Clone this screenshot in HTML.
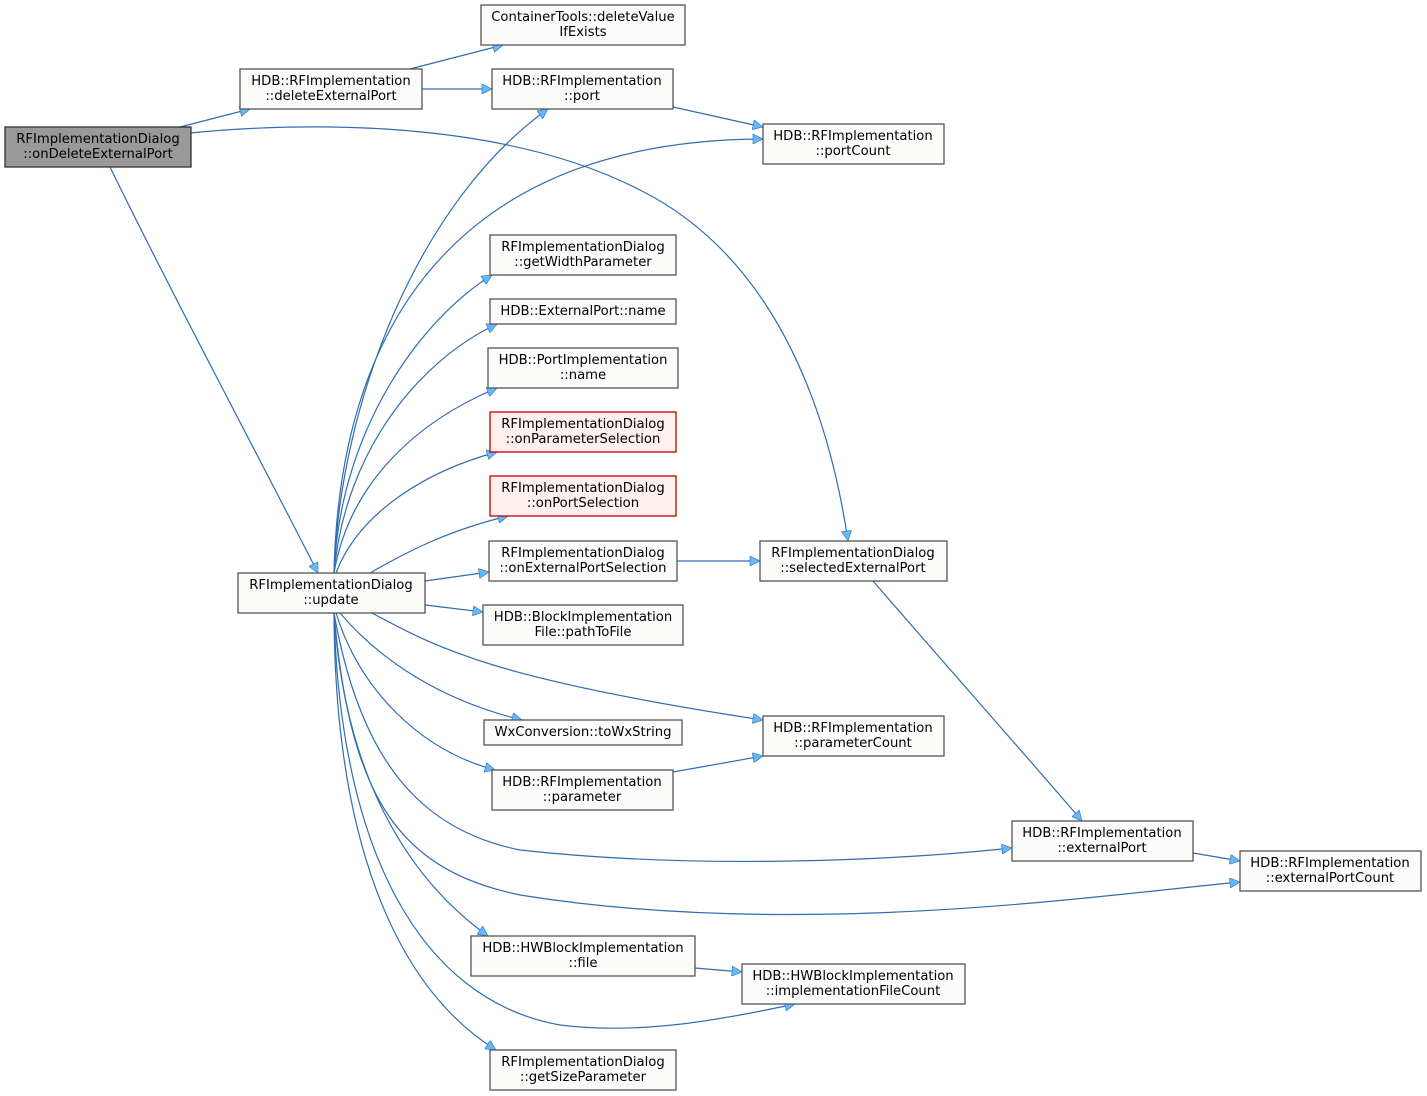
<!DOCTYPE html>
<html><head><meta charset="utf-8"><style>
html,body{margin:0;padding:0;background:#fff;}
svg{display:block;}
text{font-family:"DejaVu Sans","Liberation Sans",sans-serif;font-size:13.2px;fill:#000;}
.n{fill:#fbfcfa;stroke:#555;stroke-width:1.3;}
.r{fill:#fff0f0;stroke:#c00000;stroke-width:1.3;}
.g{fill:#999;stroke:#333;stroke-width:1.3;}
.e{fill:none;stroke:#2f6db0;stroke-width:1.2;}
</style></head><body>
<svg width="1427" height="1096" viewBox="0 0 1427 1096" xmlns="http://www.w3.org/2000/svg">
<defs><marker id="a" viewBox="0 0 10 10" refX="10" refY="5" markerWidth="12" markerHeight="10" markerUnits="userSpaceOnUse" orient="auto"><path d="M0,0 L10,5 L0,10 z" fill="#63b8ff" stroke="#2f6db0" stroke-width="0.6"/></marker></defs>
<g class="edges">
<path class="e" marker-end="url(#a)" d="M180,127 L250,109"/>
<path class="e" marker-end="url(#a)" d="M190,133 C300,122 500,118 640,190 C780,260 830,420 848,541"/>
<path class="e" marker-end="url(#a)" d="M110,167 C170,290 250,440 318,573"/>
<path class="e" marker-end="url(#a)" d="M410,69 L503,45"/>
<path class="e" marker-end="url(#a)" d="M422,89 L492,89"/>
<path class="e" marker-end="url(#a)" d="M673,107 L763,127"/>
<path class="e" marker-end="url(#a)" d="M334,573 C340,400 420,200 548,109"/>
<path class="e" marker-end="url(#a)" d="M334,573 C340,300 480,140 763,139"/>
<path class="e" marker-end="url(#a)" d="M334,573 C340,430 420,320 492,275"/>
<path class="e" marker-end="url(#a)" d="M334,573 C345,450 420,360 497,324"/>
<path class="e" marker-end="url(#a)" d="M334,573 C350,480 420,420 497,388"/>
<path class="e" marker-end="url(#a)" d="M336,573 C360,510 430,470 497,452"/>
<path class="e" marker-end="url(#a)" d="M370,573 C410,550 450,530 508,516"/>
<path class="e" marker-end="url(#a)" d="M425,581 L489,572"/>
<path class="e" marker-end="url(#a)" d="M677,561 L760,561"/>
<path class="e" marker-end="url(#a)" d="M425,605 L483,612"/>
<path class="e" marker-end="url(#a)" d="M372,613 C440,650 500,680 763,720"/>
<path class="e" marker-end="url(#a)" d="M340,613 C380,660 440,700 522,720"/>
<path class="e" marker-end="url(#a)" d="M336,613 C360,690 420,750 495,770"/>
<path class="e" marker-end="url(#a)" d="M673,772 L763,756"/>
<path class="e" marker-end="url(#a)" d="M873,581 C950,670 1030,760 1082,821"/>
<path class="e" marker-end="url(#a)" d="M334,613 C360,760 420,830 520,850 C700,870 900,860 1012,848"/>
<path class="e" marker-end="url(#a)" d="M1193,853 L1240,861"/>
<path class="e" marker-end="url(#a)" d="M334,613 C350,800 400,870 520,895 C800,940 1100,895 1240,882"/>
<path class="e" marker-end="url(#a)" d="M334,613 C345,780 410,880 488,936"/>
<path class="e" marker-end="url(#a)" d="M695,968 L742,972"/>
<path class="e" marker-end="url(#a)" d="M334,613 C340,850 420,1000 560,1025 C640,1035 720,1020 795,1004"/>
<path class="e" marker-end="url(#a)" d="M334,613 C335,850 400,990 496,1050"/>
</g>
<g>
<rect class="g" x="5" y="127" width="186" height="40"/><text x="98" y="143" text-anchor="middle">RFImplementationDialog</text><text x="98" y="158" text-anchor="middle">::onDeleteExternalPort</text>
<rect class="n" x="240" y="69" width="182" height="40"/><text x="331" y="85" text-anchor="middle">HDB::RFImplementation</text><text x="331" y="100" text-anchor="middle">::deleteExternalPort</text>
<rect class="n" x="481" y="5" width="204" height="40"/><text x="583" y="21" text-anchor="middle">ContainerTools::deleteValue</text><text x="583" y="36" text-anchor="middle">IfExists</text>
<rect class="n" x="492" y="69" width="181" height="40"/><text x="582" y="85" text-anchor="middle">HDB::RFImplementation</text><text x="582" y="100" text-anchor="middle">::port</text>
<rect class="n" x="763" y="124" width="181" height="40"/><text x="853" y="140" text-anchor="middle">HDB::RFImplementation</text><text x="853" y="155" text-anchor="middle">::portCount</text>
<rect class="n" x="490" y="235" width="186" height="40"/><text x="583" y="251" text-anchor="middle">RFImplementationDialog</text><text x="583" y="266" text-anchor="middle">::getWidthParameter</text>
<rect class="n" x="490" y="299" width="186" height="25"/><text x="583" y="315" text-anchor="middle">HDB::ExternalPort::name</text>
<rect class="n" x="488" y="348" width="190" height="40"/><text x="583" y="364" text-anchor="middle">HDB::PortImplementation</text><text x="583" y="379" text-anchor="middle">::name</text>
<rect class="r" x="490" y="412" width="186" height="40"/><text x="583" y="428" text-anchor="middle">RFImplementationDialog</text><text x="583" y="443" text-anchor="middle">::onParameterSelection</text>
<rect class="r" x="490" y="476" width="186" height="40"/><text x="583" y="492" text-anchor="middle">RFImplementationDialog</text><text x="583" y="507" text-anchor="middle">::onPortSelection</text>
<rect class="n" x="489" y="541" width="188" height="40"/><text x="583" y="557" text-anchor="middle">RFImplementationDialog</text><text x="583" y="572" text-anchor="middle">::onExternalPortSelection</text>
<rect class="n" x="760" y="541" width="187" height="40"/><text x="853" y="557" text-anchor="middle">RFImplementationDialog</text><text x="853" y="572" text-anchor="middle">::selectedExternalPort</text>
<rect class="n" x="238" y="573" width="187" height="40"/><text x="331" y="589" text-anchor="middle">RFImplementationDialog</text><text x="331" y="604" text-anchor="middle">::update</text>
<rect class="n" x="483" y="605" width="200" height="40"/><text x="583" y="621" text-anchor="middle">HDB::BlockImplementation</text><text x="583" y="636" text-anchor="middle">File::pathToFile</text>
<rect class="n" x="484" y="720" width="198" height="25"/><text x="583" y="736" text-anchor="middle">WxConversion::toWxString</text>
<rect class="n" x="763" y="716" width="181" height="40"/><text x="853" y="732" text-anchor="middle">HDB::RFImplementation</text><text x="853" y="747" text-anchor="middle">::parameterCount</text>
<rect class="n" x="492" y="770" width="181" height="40"/><text x="582" y="786" text-anchor="middle">HDB::RFImplementation</text><text x="582" y="801" text-anchor="middle">::parameter</text>
<rect class="n" x="1012" y="821" width="181" height="40"/><text x="1102" y="837" text-anchor="middle">HDB::RFImplementation</text><text x="1102" y="852" text-anchor="middle">::externalPort</text>
<rect class="n" x="1240" y="851" width="181" height="40"/><text x="1330" y="867" text-anchor="middle">HDB::RFImplementation</text><text x="1330" y="882" text-anchor="middle">::externalPortCount</text>
<rect class="n" x="471" y="936" width="224" height="40"/><text x="583" y="952" text-anchor="middle">HDB::HWBlockImplementation</text><text x="583" y="967" text-anchor="middle">::file</text>
<rect class="n" x="742" y="964" width="223" height="40"/><text x="853" y="980" text-anchor="middle">HDB::HWBlockImplementation</text><text x="853" y="995" text-anchor="middle">::implementationFileCount</text>
<rect class="n" x="490" y="1050" width="186" height="40"/><text x="583" y="1066" text-anchor="middle">RFImplementationDialog</text><text x="583" y="1081" text-anchor="middle">::getSizeParameter</text>
</g>
</svg>
</body></html>
